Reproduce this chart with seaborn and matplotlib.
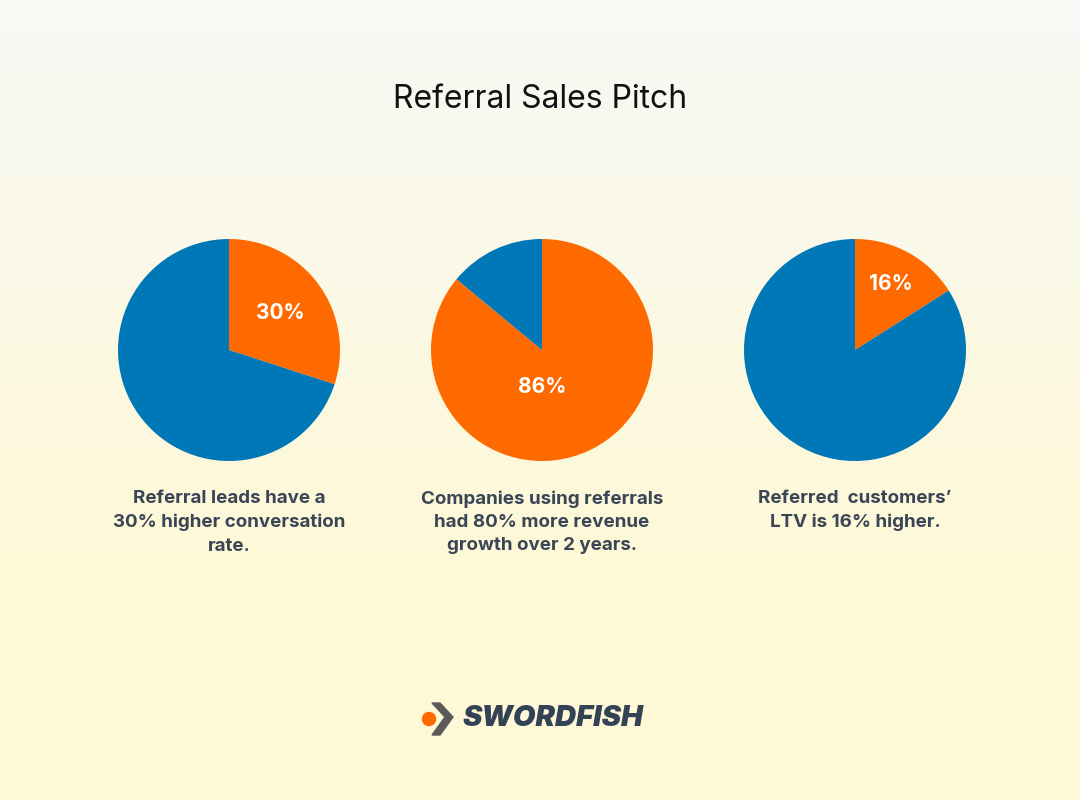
import matplotlib
matplotlib.use("Agg")
import matplotlib.pyplot as plt
import seaborn as sns
import numpy as np
from matplotlib.patches import Polygon, Circle

sns.set_theme(style="white")

title = "Referral Sales Pitch"
orange_pct = [30, 86, 16]
captions = ["Referral leads have a\n30% higher conversation\nrate.",
            "Companies using referrals\nhad 80% more revenue\ngrowth over 2 years.",
            "Referred  customers’\nLTV is 16% higher."]
label_dist = [0.57, 0.33, 0.68]
colors = ["#ff6a00", "#0077b6"]
centers_x = [229, 542, 855]

W, H = 1080, 800
fig = plt.figure(figsize=(10.8, 8), dpi=100)
bg = fig.add_axes([0, 0, 1, 1], zorder=-10)
grad = np.linspace(0, 1, 256)[:, None]
top = np.array([248, 248, 246]) / 255
bot = np.array([254, 248, 214]) / 255
img = top + (bot - top) * np.clip(grad * 1.4, 0, 1)[..., None]
bg.imshow(img, aspect="auto", extent=[0, W, H, 0])
bg.set_xlim(0, W); bg.set_ylim(H, 0)
bg.set_axis_off()

fig.text(0.5, 1 - 99 / H, title, ha="center", va="center", fontsize=23,
         family="Inter", color="#111111")

r = 111
for i, (cx, p) in enumerate(zip(centers_x, orange_pct)):
    ax = fig.add_axes([(cx - r) / W, 1 - (350 + r) / H, 2 * r / W, 2 * r / H])
    wedges, texts, autotexts = ax.pie([p, 100 - p], colors=colors, startangle=90,
                                      counterclock=False, autopct="%d%%",
                                      pctdistance=label_dist[i],
                                      wedgeprops=dict(linewidth=0),
                                      textprops=dict(color="white", fontsize=15,
                                                     fontweight="bold", family="Inter"))
    autotexts[1].set_visible(False)
    if i == 1:
        autotexts[0].set_position((0, -label_dist[i]))
    ax.set_xlim(-1, 1); ax.set_ylim(-1, 1)
    ax.set_axis_off()
    fig.text(cx / W, 1 - 490 / H, captions[i], ha="center", va="top", fontsize=13.5,
             fontweight="bold", family="Inter", color="#3a4556", linespacing=1.5)

# logo
bg.add_patch(Polygon([(432, 703), (440, 703), (453, 717), (440, 735), (432, 735), (445, 717)],
                     closed=True, color="#5a5a5a"))
bg.add_patch(Circle((429, 719), 6.5, color="#ff6a00"))
bg.text(462, 718, "SWORDFISH", fontsize=21, fontweight="black", style="italic",
        family="Inter", color="#344256", va="center", ha="left")

fig.savefig("out.png", dpi=100)
